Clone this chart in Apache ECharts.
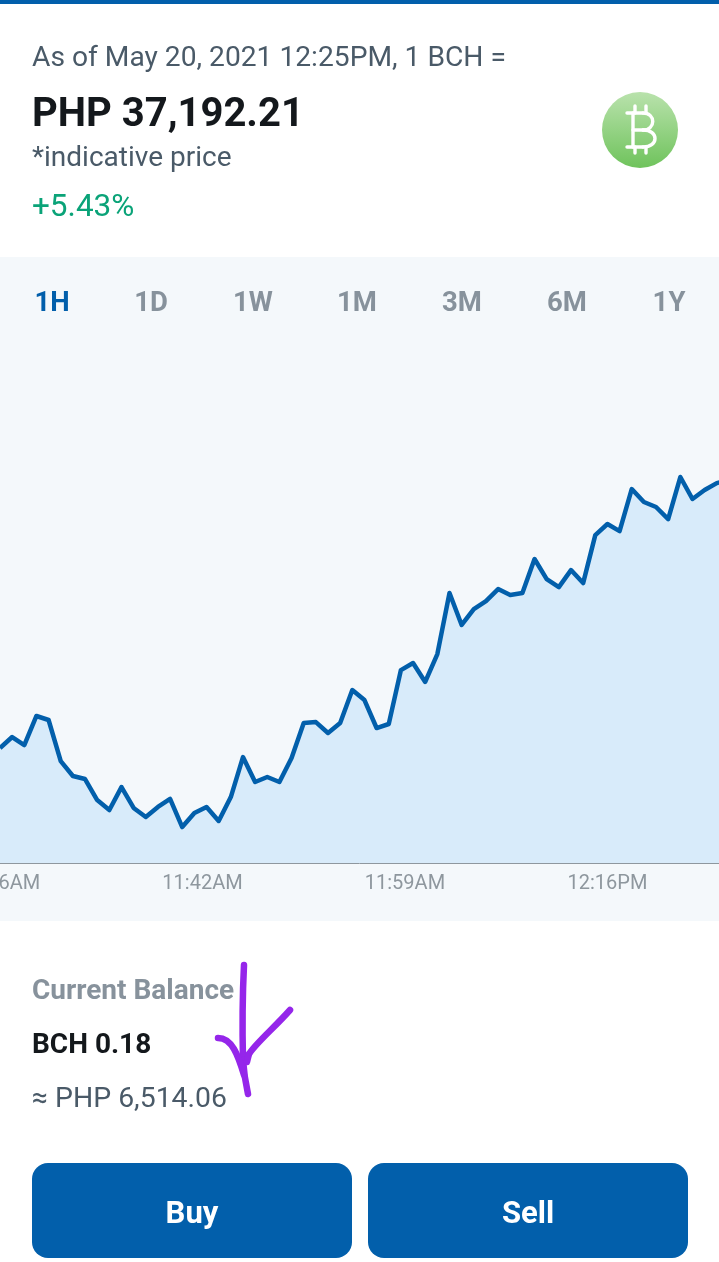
<!DOCTYPE html>
<html><head><meta charset="utf-8">
<style>html,body{margin:0;padding:0;background:#fff}#c{width:719px;height:1262px}</style>
<script src="https://cdn.jsdelivr.net/npm/echarts@6/dist/echarts.min.js"></script>
</head><body><div id="c"></div>
<script>
// Data
const tickLabels = ['11:26AM','11:42AM','11:59AM','12:16PM','12:33PM'];
const prices = [35281,35361,35303,35513,35484,35187,35079,35057,34905,34833,
34999,34848,34783,34855,34913,34710,34812,34855,34754,34927,
35216,35036,35072,35036,35209,35462,35469,35390,35462,35701,
35628,35426,35455,35845,35896,35759,35961,36402,36171,36286,
36344,36431,36388,36402,36648,36503,36445,36568,36474,36821,
36901,36850,37154,37060,37024,36937,37241,37082,37147,37197,37219];
const ranges = ['1H','1D','1W','1M','3M','6M','1Y'];
const rangeX = [52,151,253,357,462,567,669];

const font = 'Roboto, sans-serif';
const secondsPerPoint = 60, secondsPerTick = 1000;
const seriesData = prices.map((p,i)=>[i*secondsPerPoint,p]);

function txt(x,y,text,size,color,weight,align){
  return {type:'text',x,y,silent:true,z:10,style:{text,fontFamily:font,fontSize:size,fill:color,fontWeight:weight||400,align:align||'left',verticalAlign:'middle'}};
}
function bez(x1,y1,cx1,cy1,cx2,cy2,x2,y2,stroke,w,z){
  return {type:'bezierCurve',z,silent:true,shape:{x1,y1,cpx1:cx1,cpy1:cy1,cpx2:cx2,cpy2:cy2,x2,y2},style:{fill:'none',stroke,lineWidth:w,lineCap:'round'}};
}
function seg(x1,y1,x2,y2,stroke,w,z){
  return {type:'line',z,silent:true,shape:{x1,y1,x2,y2},style:{stroke,lineWidth:w,lineCap:'round'}};
}
const white='#fff', purple='#9526EA', brand='#025FAB';
const graphics = [
  {type:'rect',shape:{x:0,y:0,width:719,height:4},style:{fill:brand},z:-1},
  {type:'rect',shape:{x:0,y:257,width:719,height:664},style:{fill:'#F4F8FB'},z:-2},
  txt(32,59,'As of May 20, 2021 12:25PM, 1 BCH =',28.2,'#4A5A68'),
  txt(32,116,'PHP 37,192.21',40,'#14181C',700),
  txt(32,159,'*indicative price',28,'#4A5A68'),
  txt(32,208,'+5.43%',31.5,'#0AA378'),
  {type:'circle',shape:{cx:640,cy:130,r:38},z:5,style:{fill:new echarts.graphic.LinearGradient(0,0,0,1,[{offset:0,color:'#B9E2AC'},{offset:1,color:'#6FC35C'}])}},
  seg(627,113,643,113,white,3.4,6),
  seg(627,147,643,147,white,3.4,6),
  seg(633,113,633,147,white,3.4,6),
  seg(633,130,643,130,white,3.4,6),
  bez(643,113,656,113,656,130,643,130,white,3.4,6),
  bez(643,130,659,130,659,147,643,147,white,3.4,6),
  seg(635,106,635,113,white,3.4,6),
  seg(646,106,646,113,white,3.4,6),
  seg(635,147,635,153,white,3.4,6),
  seg(646,147,646,153,white,3.4,6),
  txt(32,992,'Current Balance',28,'#87929C',700),
  txt(32,1046,'BCH 0.18',28,'#14181C',700),
  txt(32,1100,'≈ PHP 6,514.06',28.4,'#4A5A68'),
  {type:'rect',z:5,shape:{x:32,y:1163,width:320,height:95,r:16},style:{fill:brand}},
  {type:'rect',z:5,shape:{x:368,y:1163,width:320,height:95,r:16},style:{fill:brand}},
  txt(192,1215,'Buy',31,'#fff',700,'center'),
  txt(528,1215,'Sell',31,'#fff',700,'center'),
  bez(244,965,243,985,242,1020,243,1060,purple,6.5,20),
  bez(243,1060,244,1075,246,1085,248,1094,purple,6.5,20),
  bez(218,1038,232,1038,238,1055,244,1075,purple,6.5,20),
  bez(290,1010,275,1027,256,1043,249,1054,purple,6.5,20),
  seg(249,1054,247,1062,purple,6.5,20)
];
ranges.forEach((r,i)=>graphics.push(txt(rangeX[i],304,r,27.5,i===0?brand:'#87929C',700,'center')));

const chart = echarts.init(document.getElementById('c'),null,{renderer:'canvas',width:719,height:1262});
chart.setOption({
  animation:false,
  backgroundColor:'#fff',
  grid:{left:0,right:0,top:343,bottom:399,containLabel:false,outerBoundsMode:'none'},
  xAxis:{type:'value',min:0,max:3551,interval:secondsPerTick,
    axisLine:{show:true,onZero:false,lineStyle:{color:'#8E979E',width:1}},
    axisTick:{show:false},splitLine:{show:false},
    axisLabel:{show:true,color:'#8E979E',fontFamily:font,fontSize:20,margin:11,showMinLabel:true,showMaxLabel:false,hideOverlap:false,
      formatter:v=>tickLabels[Math.round(v/secondsPerTick)]||''}},
  yAxis:{type:'value',min:34450,max:38210,show:false,splitLine:{show:false}},
  series:[{type:'line',data:seriesData,symbol:'none',smooth:false,clip:true,
    lineStyle:{color:brand,width:4.5,join:'round'},
    areaStyle:{color:'#D8EBFA',opacity:1}}],
  graphic:graphics
});
</script></body></html>
